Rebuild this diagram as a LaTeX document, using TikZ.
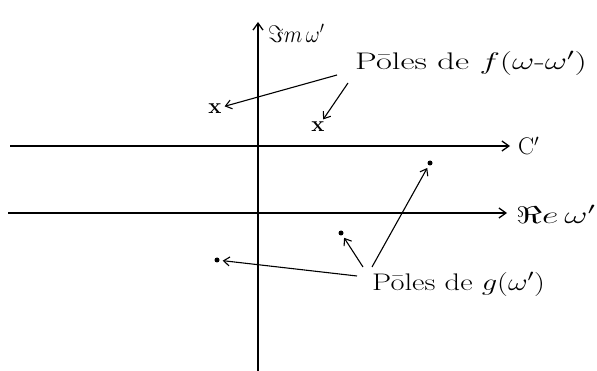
\RequirePackage{fix-cm}
\documentclass[tikz,border=0pt]{standalone}
\usetikzlibrary{arrows.meta}
\newcommand{\etire}[2]{\scalebox{#1}[1]{#2}}
\begin{document}
\begin{tikzpicture}[x=1pt, y=-1pt,
    axe/.style={line width=1.3pt, -{Straight Barb[length=7pt, width=10pt]}},
    fleche/.style={line width=1.1pt, -{Straight Barb[length=6pt, width=9pt]}, shorten >=3pt},
    croix/.style={font=\fontsize{22}{24}\selectfont\bfseries, inner sep=0pt},
    point/.style={circle, fill, inner sep=0pt, minimum size=5pt},
    etiq/.style={font=\fontsize{24}{28}\selectfont, anchor=west, inner sep=0pt}]
  \useasboundingbox (0,0) rectangle (597,371);
  % axes et contour
  \coordinate (ybas)  at (258,371);
  \coordinate (yhaut) at (258,22);
  \coordinate (cg)    at (10,146);
  \coordinate (cd)    at (510,146);
  \coordinate (rg)    at (8,213);
  \coordinate (rd)    at (507,213);
  \draw[axe] (ybas) -- (yhaut);
  \draw[axe] (cg) -- (cd);
  \draw[axe] (rg) -- (rd);
  \node[etiq] (lim) at (268,33) {\etire{0.9}{$\Im m\,\omega'$}};
  \node[etiq] (lc)  at (518,146) {C$'$};
  \node[etiq] (lre) at (516,214) {\etire{1.5}{$\Re e\,\omega'$}};
  % poles de f
  \node[croix] (f1) at (215,109) {x};
  \node[croix] (f2) at (318,127) {x};
  \node[etiq] (lf) at (355,63) {\etire{1.44}{P\=oles de $f(\omega\mbox{-}\omega')$}};
  \coordinate (lf1) at (337,75);
  \coordinate (lf2) at (348,83);
  \draw[fleche] (lf1) -- (f1);
  \draw[fleche] (lf2) -- (f2);
  % poles de g
  \node[point] (g1) at (430,163) {};
  \node[point] (g2) at (341,233) {};
  \node[point] (g3) at (217,260) {};
  \node[etiq] (lg) at (372,284) {\etire{1.27}{P\=oles de $g(\omega')$}};
  \coordinate (lg1) at (357,276);
  \coordinate (lg2) at (363,267);
  \coordinate (lg3) at (372,267);
  \draw[fleche] (lg1) -- (g3);
  \draw[fleche] (lg2) -- (g2);
  \draw[fleche] (lg3) -- (g1);
\end{tikzpicture}
\end{document}
